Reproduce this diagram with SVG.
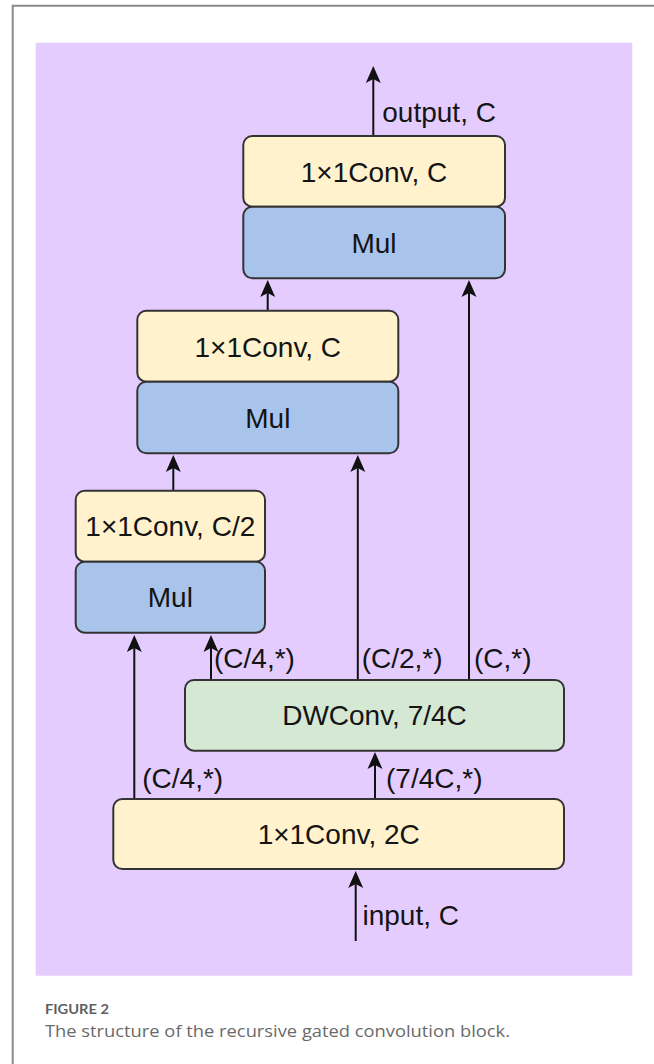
<svg xmlns="http://www.w3.org/2000/svg" width="654" height="1064" viewBox="0 0 654 1064">
<style>
.bx{stroke:#333333;stroke-width:2}
.y{fill:#FFF2CC}
.b{fill:#A9C4EB}
.g{fill:#D5E8D4}
.t{font-family:"Liberation Sans",Arial,sans-serif;font-size:28px;fill:#141414}
.c{text-anchor:middle}
.ln{stroke:#111;stroke-width:2;fill:none;marker-end:url(#ah)}
</style>
<defs>
<marker id="ah" markerUnits="userSpaceOnUse" markerWidth="18" markerHeight="16" refX="12" refY="8" orient="auto" viewBox="0 0 18 16">
<path d="M0,0.5 L17,8 L0,15.5 L4,8 Z" fill="#111"/>
</marker>
</defs>
<rect width="654" height="1064" fill="#ffffff"/>
<path d="M12.7,1064 V5.7 H654" fill="none" stroke="#8a8a8a" stroke-width="2"/>
<rect x="35.7" y="42.7" width="596.6" height="933" fill="#E5CCFF"/>

<g id="connectors">
<line class="ln" x1="373.3" y1="136" x2="373.3" y2="71"/>
<line class="ln" x1="267.7" y1="310.7" x2="267.7" y2="285"/>
<line class="ln" x1="469" y1="680" x2="469" y2="285"/>
<line class="ln" x1="173.3" y1="490.7" x2="173.3" y2="460"/>
<line class="ln" x1="357.8" y1="680" x2="357.8" y2="460"/>
<line class="ln" x1="134.3" y1="799" x2="134.3" y2="640"/>
<line class="ln" x1="211" y1="680" x2="211" y2="640"/>
<line class="ln" x1="375" y1="799" x2="375" y2="757"/>
<line class="ln" x1="355.7" y1="941" x2="355.7" y2="876"/>
</g>

<g id="top-conv">
<rect class="bx y" x="243.3" y="136" width="261.7" height="70.7" rx="9"/>
<text class="t c" x="374" y="181.5">1×1Conv, C</text>
</g>
<g id="top-mul">
<rect class="bx b" x="243.3" y="206.7" width="261.7" height="71.6" rx="9"/>
<text class="t c" x="374" y="252.5">Mul</text>
</g>

<g id="mid-conv">
<rect class="bx y" x="137.3" y="310.7" width="261" height="71" rx="9"/>
<text class="t c" x="267.8" y="356.5">1×1Conv, C</text>
</g>
<g id="mid-mul">
<rect class="bx b" x="137.3" y="381.7" width="261" height="71.6" rx="9"/>
<text class="t c" x="267.8" y="427.5">Mul</text>
</g>

<g id="left-conv">
<rect class="bx y" x="75.7" y="490.7" width="189.3" height="71" rx="9"/>
<text class="t c" x="170.3" y="536">1×1Conv, C/2</text>
</g>
<g id="left-mul">
<rect class="bx b" x="75.7" y="561.7" width="189.3" height="71" rx="9"/>
<text class="t c" x="170.3" y="606.5">Mul</text>
</g>

<g id="dwconv">
<rect class="bx g" x="185" y="680" width="379" height="70.7" rx="9"/>
<text class="t c" x="374.5" y="725">DWConv, 7/4C</text>
</g>

<g id="bottom-conv">
<rect class="bx y" x="113.3" y="799" width="450.7" height="70" rx="9"/>
<text class="t c" x="338.7" y="844">1×1Conv, 2C</text>
</g>

<g id="labels">
<text class="t" x="382.3" y="121.7">output, C</text>
<text class="t" x="214" y="668">(C/4,*)</text>
<text class="t" x="361.7" y="668">(C/2,*)</text>
<text class="t" x="474" y="668">(C,*)</text>
<text class="t" x="142.3" y="788">(C/4,*)</text>
<text class="t" x="386" y="788">(7/4C,*)</text>
<text class="t" x="362.5" y="925">input, C</text>
</g>

<text x="45" y="1014" textLength="64" lengthAdjust="spacingAndGlyphs" font-family="Lato,'Open Sans',sans-serif" font-size="14" font-weight="700" fill="#5f5f5f">FIGURE 2</text>
<text x="45" y="1037" textLength="465" lengthAdjust="spacingAndGlyphs" font-family="'Open Sans',Lato,sans-serif" font-size="17" font-weight="400" fill="#6a6a6a">The structure of the recursive gated convolution block.</text>
</svg>
